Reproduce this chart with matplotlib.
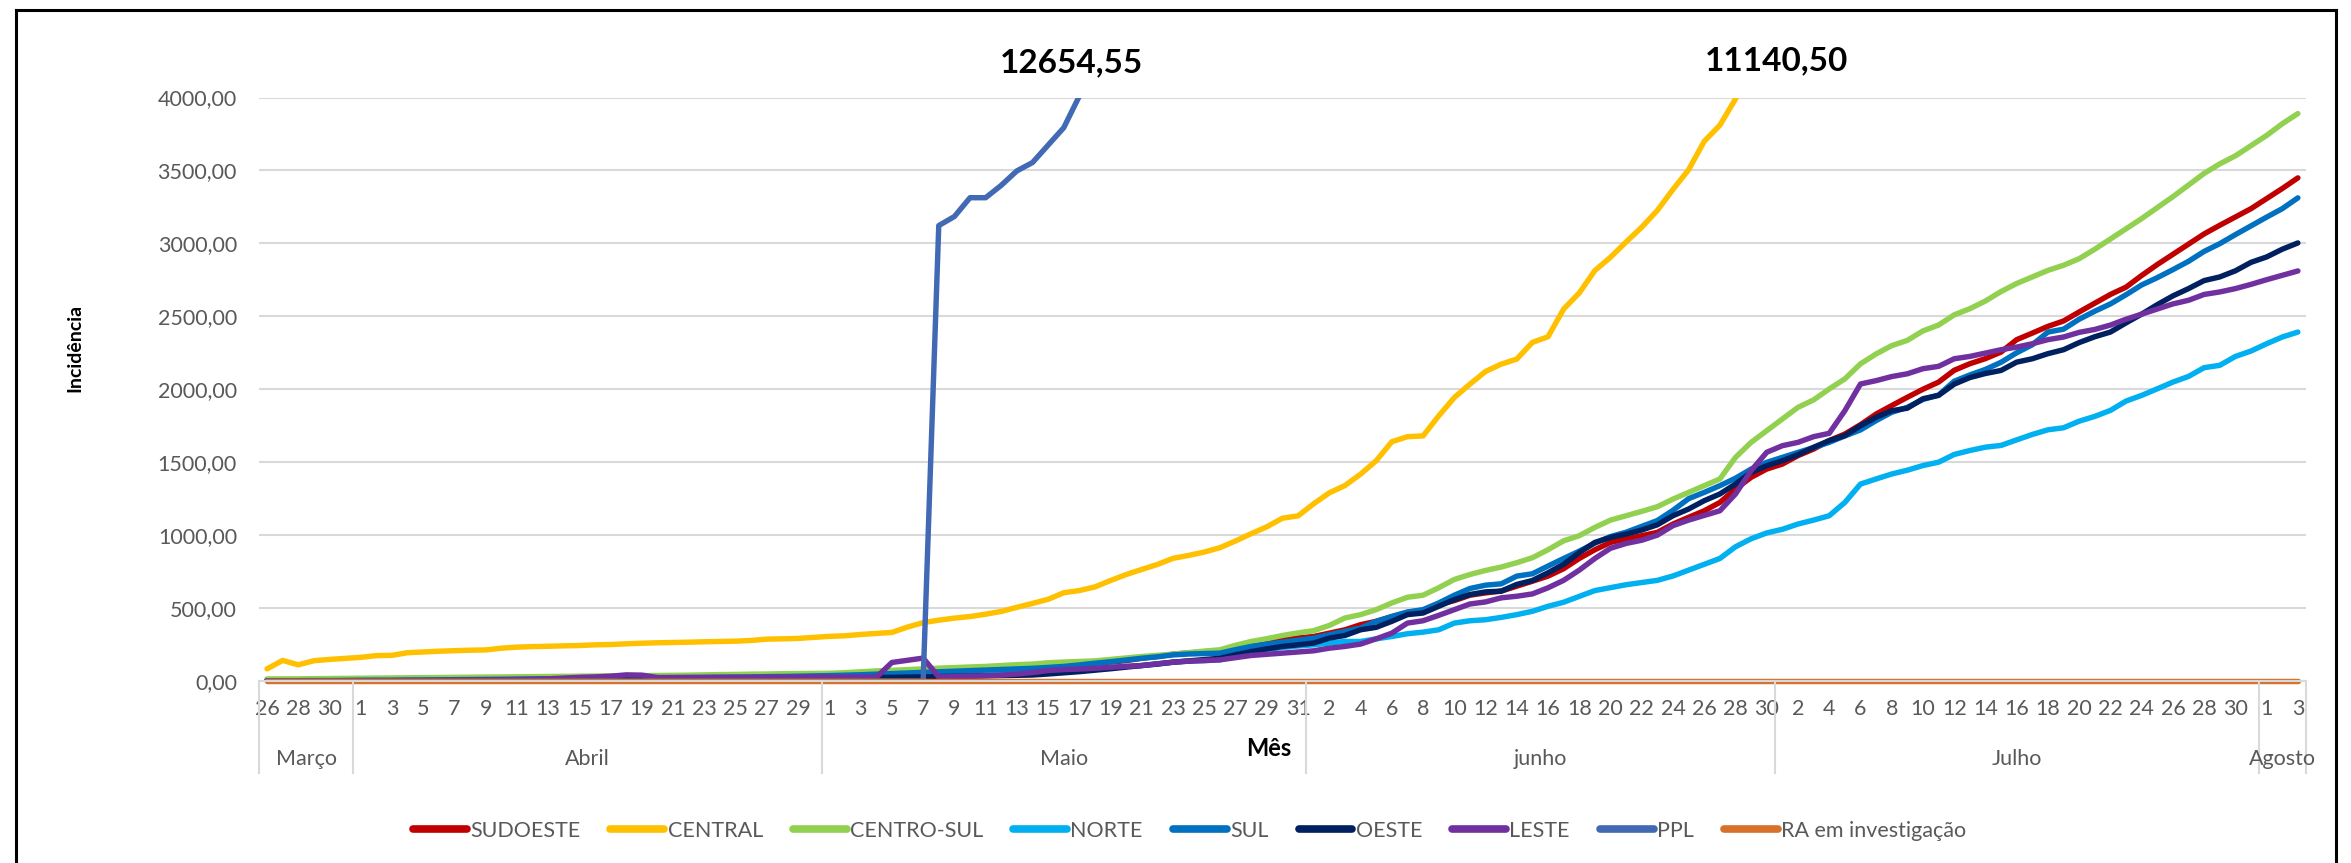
import matplotlib
matplotlib.use('Agg')
import matplotlib.pyplot as plt
import matplotlib.transforms as mtransforms
from matplotlib.lines import Line2D
import numpy as np
import pandas as pd

plt.rcParams['font.family'] = ['Lato', 'DejaVu Sans']

# ---------------- data ----------------
dates = pd.date_range('2020-03-26', '2020-08-03', freq='D')
month_names = ['Março', 'Abril', 'Maio', 'junho', 'Julho', 'Agosto']

sudoeste = [2, 2, 3, 3, 4, 4, 5, 5, 6, 6,
            7, 8, 9, 10, 11, 12, 13, 14, 15, 16,
            17, 18, 19, 20, 21, 22, 23, 24, 25, 26,
            27, 28, 29, 30, 32, 34, 36, 39, 42, 46,
            50, 54, 58, 62, 66, 70, 74, 78, 82, 86,
            92, 100, 108, 122, 130, 140, 156, 168, 184, 192,
            200, 207, 228, 248, 265, 283, 295, 305, 328, 351,
            386, 409, 440, 470, 485, 525, 551, 588, 604, 616,
            650, 684, 719, 770, 840, 900, 950, 973, 996, 1019,
            1076, 1122, 1167, 1224, 1316, 1396, 1453, 1487, 1545, 1590,
            1648, 1693, 1757, 1830, 1888, 1945, 2000, 2049, 2130, 2175,
            2210, 2255, 2340, 2385, 2431, 2468, 2530, 2590, 2650, 2700,
            2780, 2855, 2925, 2995, 3065, 3124, 3181, 3238, 3307, 3376,
            3449]

central = [83, 141, 111, 139, 148, 155, 162, 174, 176, 194,
           199, 204, 208, 211, 213, 225, 232, 236, 238, 241,
           243, 248, 250, 255, 259, 262, 264, 266, 269, 271,
           273, 278, 287, 289, 292, 299, 306, 310, 319, 326,
           333, 370, 400, 417, 431, 442, 458, 477, 505, 532,
           560, 605, 620, 645, 689, 730, 765, 799, 841, 861,
           884, 914, 960, 1010, 1057, 1116, 1132, 1215, 1290, 1340,
           1418, 1510, 1640, 1675, 1680, 1817, 1943, 2035, 2122, 2172,
           2207, 2321, 2360, 2550, 2660, 2814, 2905, 3010, 3111, 3226,
           3370, 3505, 3700, 3810, 3990, 4180, 4370, 4560, 4750, 4940,
           5130, 5320, 5510, 5700, 5890, 6080, 6270, 6460, 6650, 6850,
           7050, 7250, 7450, 7650, 7850, 8050, 8250, 8450, 8650, 8850,
           9050, 9250, 9450, 9650, 9850, 10060, 10270, 10480, 10690, 10910,
           11140.50]

centro_sul = [14, 15, 15, 16, 17, 18, 19, 20, 21, 22,
              23, 24, 25, 26, 27, 28, 29, 30, 31, 32,
              33, 34, 35, 36, 37, 38, 39, 40, 42, 44,
              45, 47, 48, 50, 51, 52, 53, 57, 63, 69,
              73, 78, 83, 88, 92, 96, 100, 106, 112, 116,
              125, 130, 134, 138, 148, 158, 168, 176, 184, 195,
              205, 214, 245, 271, 290, 312, 330, 345, 381, 432,
              455, 489, 535, 574, 588, 639, 696, 730, 758, 781,
              811, 845, 900, 961, 996, 1053, 1103, 1133, 1163, 1195,
              1247, 1293, 1339, 1385, 1533, 1636, 1716, 1796, 1876, 1927,
              2002, 2071, 2174, 2242, 2299, 2335, 2400, 2440, 2510, 2552,
              2605, 2670, 2725, 2770, 2815, 2850, 2895, 2960, 3030, 3100,
              3170, 3245, 3320, 3400, 3480, 3545, 3600, 3670, 3740, 3820,
              3890]

norte = [1, 1, 1, 2, 2, 2, 3, 3, 3, 4,
         4, 5, 5, 6, 6, 7, 7, 8, 8, 9,
         9, 10, 10, 11, 11, 12, 12, 13, 14, 15,
         16, 17, 18, 19, 20, 21, 22, 24, 26, 28,
         30, 33, 36, 40, 44, 48, 52, 56, 60, 64,
         70, 76, 80, 85, 95, 100, 106, 118, 129, 136,
         140, 145, 175, 202, 216, 230, 240, 248, 260, 271,
         271, 289, 305, 324, 335, 351, 397, 413, 420, 436,
         455, 478, 512, 540, 580, 620, 640, 660, 675, 690,
         720, 760, 800, 840, 920, 975, 1015, 1040, 1076, 1103,
         1133, 1224, 1350, 1385, 1419, 1445, 1477, 1500, 1553, 1580,
         1603, 1615, 1653, 1690, 1722, 1736, 1781, 1814, 1855, 1919,
         1958, 2003, 2049, 2088, 2148, 2164, 2225, 2262, 2312, 2358,
         2392]

sul = [1, 2, 2, 3, 3, 4, 4, 5, 5, 6,
       7, 8, 9, 10, 11, 12, 13, 14, 15, 16,
       17, 18, 19, 20, 21, 22, 23, 24, 25, 26,
       27, 28, 30, 31, 33, 35, 37, 40, 43, 47,
       51, 55, 59, 63, 67, 71, 75, 79, 83, 87,
       93, 100, 110, 122, 132, 144, 156, 166, 179, 185,
       188, 191, 215, 237, 252, 266, 280, 294, 317, 340,
       363, 409, 443, 473, 489, 535, 588, 634, 657, 666,
       719, 735, 788, 840, 890, 945, 990, 1020, 1060, 1100,
       1170, 1250, 1293, 1339, 1390, 1453, 1499, 1533, 1567, 1600,
       1636, 1680, 1721, 1785, 1842, 1876, 1930, 1960, 2055, 2098,
       2136, 2185, 2250, 2305, 2392, 2412, 2480, 2535, 2585, 2648,
       2715, 2765, 2820, 2877, 2945, 2998, 3060, 3120, 3180, 3238,
       3312]

oeste = [0, 0, 0, 0, 1, 1, 1, 1, 1, 2,
         2, 2, 3, 3, 3, 4, 4, 5, 5, 6,
         6, 7, 7, 8, 8, 9, 10, 10, 11, 12,
         13, 14, 15, 16, 17, 18, 19, 20, 22, 24,
         25, 27, 28, 30, 32, 34, 36, 37, 39, 41,
         48, 56, 64, 74, 84, 95, 106, 116, 129, 138,
         147, 156, 180, 202, 220, 237, 248, 260, 294, 312,
         351, 368, 409, 455, 466, 512, 558, 593, 611, 616,
         662, 689, 742, 800, 880, 950, 984, 1007, 1035, 1071,
         1133, 1179, 1236, 1282, 1350, 1430, 1476, 1510, 1551, 1602,
         1648, 1682, 1750, 1808, 1853, 1870, 1935, 1958, 2035, 2080,
         2108, 2129, 2186, 2209, 2244, 2271, 2320, 2360, 2392, 2455,
         2515, 2580, 2640, 2690, 2745, 2770, 2812, 2870, 2907, 2960,
         3003]

leste = [1, 1, 1, 2, 2, 2, 3, 3, 3, 4,
         4, 5, 5, 6, 7, 8, 10, 12, 15, 20,
         25, 28, 33, 42, 40, 24, 24, 24, 24, 25,
         25, 25, 26, 26, 26, 27, 27, 27, 27, 25,
         127, 142, 157, 28, 30, 33, 36, 40, 48, 58,
         72, 78, 82, 87, 94, 100, 106, 118, 129, 136,
         140, 145, 160, 175, 183, 191, 199, 207, 225, 237,
         253, 289, 328, 397, 413, 450, 489, 528, 542, 570,
         581, 597, 639, 690, 760, 840, 910, 943, 965, 1000,
         1065, 1103, 1135, 1167, 1282, 1442, 1568, 1613, 1636, 1675,
         1698, 1853, 2036, 2059, 2087, 2106, 2141, 2157, 2209, 2225,
         2248, 2271, 2289, 2312, 2340, 2358, 2390, 2410, 2440, 2480,
         2515, 2550, 2585, 2610, 2650, 2667, 2690, 2719, 2751, 2781,
         2811]

ppl = [0, 0, 0, 0, 0, 0, 0, 0, 0, 0,
       0, 0, 0, 0, 0, 0, 0, 0, 0, 0,
       0, 0, 0, 0, 0, 0, 0, 0, 0, 0,
       0, 0, 0, 0, 0, 0, 0, 0, 0, 0,
       0, 0, 0, 3122, 3184, 3313, 3313, 3398, 3497, 3554,
       3674, 3793, 4010, 4230, 4420, 4600, 4780, 4950, 5110, 5270,
       5420, 5570, 5710, 5850, 5990, 6120, 6250, 6380, 6500, 6620,
       6740, 6860, 6970, 7080, 7190, 7300, 7410, 7510, 7610, 7710,
       7810, 7910, 8010, 8110, 8210, 8300, 8390, 8480, 8570, 8660,
       8750, 8840, 8930, 9020, 9110, 9200, 9290, 9380, 9470, 9560,
       9650, 9740, 9830, 9920, 10010, 10100, 10190, 10280, 10370, 10460,
       10550, 10640, 10730, 10820, 10910, 11000, 11090, 11180, 11270, 11360,
       11450, 11540, 11630, 11720, 11810, 11900, 12000, 12120, 12250, 12420,
       12654.55]

ra_investigacao = [0, 0, 0, 0, 0, 0, 0, 0, 0, 0,
                   0, 0, 0, 0, 0, 0, 0, 0, 0, 0,
                   0, 0, 0, 0, 0, 0, 0, 0, 0, 0,
                   0, 0, 0, 0, 0, 0, 0, 0, 0, 0,
                   0, 0, 0, 0, 0, 0, 0, 0, 0, 0,
                   0, 0, 0, 0, 0, 0, 0, 0, 0, 0,
                   0, 0, 0, 0, 0, 0, 0, 0, 0, 0,
                   0, 0, 0, 0, 0, 0, 0, 0, 0, 0,
                   0, 0, 0, 0, 0, 0, 0, 0, 0, 0,
                   0, 0, 0, 0, 0, 0, 0, 0, 0, 0,
                   0, 0, 0, 0, 0, 0, 0, 0, 0, 0,
                   0, 0, 0, 0, 0, 0, 0, 0, 0, 0,
                   0, 0, 0, 0, 0, 0, 0, 0, 0, 0,
                   0]

series_names = ['SUDOESTE', 'CENTRAL', 'CENTRO-SUL', 'NORTE', 'SUL',
                'OESTE', 'LESTE', 'PPL', 'RA em investigação']
series_values = [sudoeste, central, centro_sul, norte, sul,
                 oeste, leste, ppl, ra_investigacao]
series_colors = ['#C00000', '#FFC000', '#92D050', '#00B0F0', '#0070C0',
                 '#002060', '#7030A0', '#4169B4', '#D6702B']

annotations = [('12654,55', 'PPL'), ('11140,50', 'CENTRAL')]

# ---------------- figure ----------------
W, H = 2351, 863
fig = plt.figure(figsize=(W / 100, H / 100), dpi=100)
fig.patch.set_facecolor('white')

ax_l, ax_r, ax_t, ax_b = 259.2, 2305.7, 97.5, 681.0
ax = fig.add_axes([ax_l / W, 1 - ax_b / H, (ax_r - ax_l) / W, (ax_b - ax_t) / H])

x = np.arange(len(dates))
handles = []
for name, vals, col in zip(series_names, series_values, series_colors):
    assert len(vals) == len(dates), name
    ln, = ax.plot(x, vals, color=col, lw=3.9, solid_capstyle='round',
                  solid_joinstyle='round', label=name)
    if max(vals) <= 0:
        ln.set_clip_on(False)   # flat line on the axis drawn at full width
    handles.append(Line2D([0], [0], color=col, lw=5.5, solid_capstyle='round'))

ax.set_xlim(-0.5, len(dates) - 0.5)
ax.set_ylim(0, 4000)
yt = np.arange(0, 4001, 500)
ax.set_yticks(yt)
ax.set_yticklabels([f'{v:.2f}'.replace('.', ',') for v in yt])
ax.yaxis.grid(True, color='#D9D9D9', lw=1.5)
ax.set_axisbelow(True)
for s in ['top', 'right', 'left']:
    ax.spines[s].set_visible(False)
ax.spines['bottom'].set_color('#D9D9D9')
ax.spines['bottom'].set_linewidth(1.5)

ax.set_xticks(x[::2])
ax.set_xticklabels([str(d.day) for d in dates[::2]])
ax.tick_params(axis='x', length=0, pad=13, labelsize=15.5, labelcolor='#595959')
ax.tick_params(axis='y', length=0, pad=16, labelsize=15.5, labelcolor='#595959')

# month grouping
trans = mtransforms.blended_transform_factory(ax.transData, ax.transAxes)
plot_h = ax_b - ax_t
month_idx = dates.month.values
bounds = [-0.5]
for i in range(1, len(dates)):
    if month_idx[i] != month_idx[i - 1]:
        bounds.append(i - 0.5)
bounds.append(len(dates) - 0.5)
div_bottom = -(773 - ax_b) / plot_h
for b in bounds:
    ax.plot([b, b], [0, div_bottom], transform=trans, color='#D9D9D9', lw=1.5,
            clip_on=False)
label_y = -(759 - ax_b) / plot_h
for k, name in enumerate(month_names):
    c = (bounds[k] + bounds[k + 1]) / 2
    ax.text(c, label_y, name, transform=trans, ha='center', va='center',
            fontsize=15.5, color='#595959')

# axis titles
fig.text(1269 / W, 1 - 748 / H, 'Mês', ha='center', va='center',
         fontsize=17, fontweight='bold', color='black')
fig.text(75 / W, 1 - 348 / H, 'Incidência', ha='center', va='center',
         rotation=90, fontsize=14, fontweight='bold', color='black')

# labels for values beyond the axis
ann_pos = {'PPL': (51.5, 4235), 'CENTRAL': (96.6, 4250)}
for txt, key in annotations:
    px, py = ann_pos[key]
    ax.text(px, py, txt, ha='center', va='center', fontsize=24,
            fontweight='bold', color='black', clip_on=False)

# legend
fig.legend(handles, series_names, loc='center', bbox_to_anchor=(0.506, 1 - 831 / H),
           ncol=9, frameon=False, fontsize=15.5, handlelength=2.5,
           handletextpad=0.15, columnspacing=1.4, labelcolor='#595959')

# chart border
bx0, bx1, by1 = 16 / W, 2336 / W, 1 - 10 / H
for xs, ys in [([bx0, bx0], [0, by1]), ([bx0, bx1], [by1, by1]), ([bx1, bx1], [by1, 0])]:
    fig.add_artist(Line2D(xs, ys, transform=fig.transFigure, color='black', lw=2.2))

fig.savefig('out.png', dpi=100, facecolor='white')
